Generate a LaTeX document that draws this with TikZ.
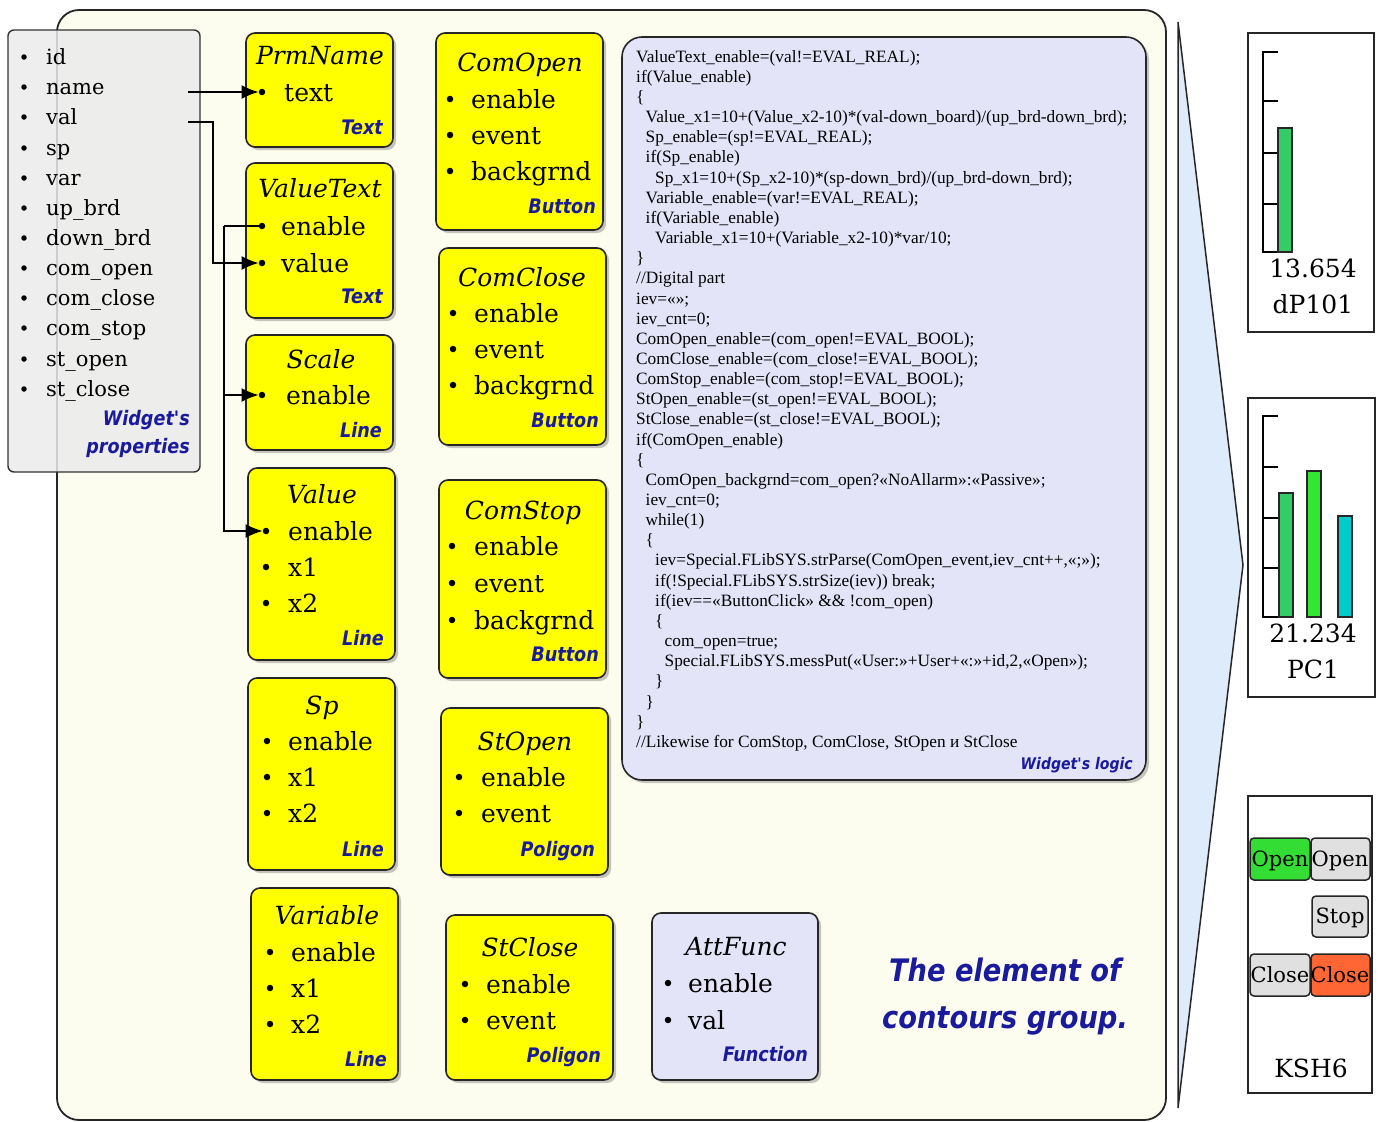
\documentclass[tikz,border=0pt]{standalone}
\usepackage{fontspec}
\setmainfont{DejaVu Serif}
\newfontfamily\codefont{Liberation Serif}
\newfontfamily\lblfont[FakeStretch=0.88]{DejaVu Sans}
\usetikzlibrary{arrows.meta,shadows}

\definecolor{cream}{HTML}{FDFDEF}
\definecolor{lav}{HTML}{E4E4F8}
\definecolor{wblue}{HTML}{1A1A9C}
\definecolor{chev}{HTML}{DDEBFA}
\definecolor{pgray}{HTML}{EBEBEB}
\definecolor{ylw}{HTML}{FFFF00}
\definecolor{bargreen}{HTML}{33CC66}
\definecolor{barlime}{HTML}{33E633}
\definecolor{barcyan}{HTML}{00CCCC}
\definecolor{btngreen}{HTML}{33DD33}
\definecolor{btngray}{HTML}{E0E0E0}
\definecolor{btnred}{HTML}{FF6633}

\newcommand\cind{\hspace*{9.5pt}}

\tikzset{
  ybox/.style={draw=black!85, line width=1.6pt, fill=ylw, rounded corners=9pt,
    drop shadow={shadow xshift=3pt, shadow yshift=-3pt, fill=black!45}},
  lbox/.style={ybox, fill=lav},
  ttl/.style={font=\fontsize{25}{30}\selectfont\itshape, anchor=base, yshift=-9pt, inner sep=0pt},
  itm/.style={font=\fontsize{25}{30}\selectfont, anchor=base west, yshift=-9pt, inner sep=0pt},
  pitm/.style={font=\fontsize{21}{25}\selectfont, anchor=base west, yshift=-7.5pt, inner sep=0pt},
  dot/.style={circle, fill=black, inner sep=0pt, minimum size=6.5pt},
  sdot/.style={circle, fill=black, inner sep=0pt, minimum size=5.5pt},
  kind/.style={font=\fontsize{20}{24}\lblfont\bfseries\itshape, text=wblue, anchor=base east, yshift=-7pt, inner sep=0pt},
  conn/.style={line width=1.6pt, -{Latex[length=17pt,width=14pt]}},
  wbox/.style={draw=black!85, line width=1.5pt, fill=white},
  bar/.style={draw=black!85, line width=1.3pt},
  btn/.style={draw=black!85, line width=1.5pt, rounded corners=4pt},
  chart/.style={font=\fontsize{25}{30}\selectfont, anchor=base, yshift=-9pt, inner sep=0pt},
  btntxt/.style={font=\fontsize{21}{25}\selectfont, anchor=base, yshift=-7.5pt, inner sep=0pt},
  capt/.style={font=\fontsize{31}{37}\lblfont\bfseries\itshape, text=wblue, anchor=base, yshift=-11pt, inner sep=0pt},
}

\begin{document}
\begin{tikzpicture}[x=1pt,y=-1pt]
  \useasboundingbox (0,0) rectangle (1382,1122);
  % group frame
  \draw[draw=black!85, line width=1.8pt, fill=cream, rounded corners=22pt] (57,10) rectangle (1166,1120);

  % widget's properties
  \draw[draw=black!80, line width=1.4pt, fill=pgray, fill opacity=0.85, rounded corners=6pt] (8,30) rectangle (200,472);
  \node[sdot] at (24,57) {};  \node[pitm] (p-id) at (46,57) {id};
  \node[sdot] at (24,87) {};  \node[pitm] (p-name) at (46,87) {name};
  \node[sdot] at (24,117) {}; \node[pitm] (p-val) at (46,117) {val};
  \node[sdot] at (24,148) {}; \node[pitm] (p-sp) at (46,148) {sp};
  \node[sdot] at (24,178) {}; \node[pitm] (p-var) at (46,178) {var};
  \node[sdot] at (24,208) {}; \node[pitm] (p-up) at (46,208) {up\_brd};
  \node[sdot] at (24,238) {}; \node[pitm] (p-down) at (46,238) {down\_brd};
  \node[sdot] at (24,268) {}; \node[pitm] (p-copen) at (46,268) {com\_open};
  \node[sdot] at (24,298) {}; \node[pitm] (p-cclose) at (46,298) {com\_close};
  \node[sdot] at (24,328) {}; \node[pitm] (p-cstop) at (46,328) {com\_stop};
  \node[sdot] at (24,359) {}; \node[pitm] (p-sopen) at (46,359) {st\_open};
  \node[sdot] at (24,389) {}; \node[pitm] (p-sclose) at (46,389) {st\_close};
  \node[kind] (p-lbl1) at (190,418) {Widget's};
  \node[kind] (p-lbl2) at (190,446) {properties};
  \coordinate (nameout) at (188,92);
  \coordinate (valout) at (188,122);

  % PrmName
  \draw[ybox] (246,33) rectangle (393,147);
  \node[ttl] (prm) at (320,55) {PrmName};
  \node[dot] (prm-txt) at (262,92) {}; \node[itm] at (284,92) {text};
  \node[kind] at (383,127) {Text};

  % ValueText
  \draw[ybox] (246,163) rectangle (393,318);
  \node[ttl] (vt) at (320,188) {ValueText};
  \node[dot] (vt-en) at (262,226) {}; \node[itm] at (281,226) {enable};
  \node[dot] (vt-val) at (262,263) {}; \node[itm] at (281,263) {value};
  \node[kind] at (383,296) {Text};

  % Scale
  \draw[ybox] (246,335) rectangle (393,450);
  \node[ttl] (sc) at (321,359) {Scale};
  \node[dot] (sc-en) at (262,395) {}; \node[itm] at (286,395) {enable};
  \node[kind] at (382,430) {Line};

  % Value
  \draw[ybox] (248,468) rectangle (395,660);
  \node[ttl] (va) at (322,494) {Value};
  \node[dot] (va-en) at (266,531) {}; \node[itm] at (288,531) {enable};
  \node[dot] (va-x1) at (266,567) {}; \node[itm] at (288,567) {x1};
  \node[dot] (va-x2) at (266,603) {}; \node[itm] at (288,603) {x2};
  \node[kind] at (384,638) {Line};

  % Sp
  \draw[ybox] (248,678) rectangle (395,870);
  \node[ttl] (sp) at (322,705) {Sp};
  \node[dot] (sp-en) at (267,741) {}; \node[itm] at (288,741) {enable};
  \node[dot] (sp-x1) at (267,777) {}; \node[itm] at (288,777) {x1};
  \node[dot] (sp-x2) at (267,813) {}; \node[itm] at (288,813) {x2};
  \node[kind] at (384,849) {Line};

  % Variable
  \draw[ybox] (251,888) rectangle (398,1080);
  \node[ttl] (vr) at (327,915) {Variable};
  \node[dot] (vr-en) at (270,952) {}; \node[itm] at (291,952) {enable};
  \node[dot] (vr-x1) at (270,988) {}; \node[itm] at (291,988) {x1};
  \node[dot] (vr-x2) at (270,1024) {}; \node[itm] at (291,1024) {x2};
  \node[kind] at (387,1059) {Line};

  % ComOpen
  \draw[ybox] (436,33) rectangle (603,230);
  \node[ttl] (co) at (520,62) {ComOpen};
  \node[dot] (co-en) at (450,99) {}; \node[itm] at (471,99) {enable};
  \node[dot] (co-ev) at (450,135) {}; \node[itm] at (471,135) {event};
  \node[dot] (co-bg) at (450,171) {}; \node[itm] at (471,171) {backgrnd};
  \node[kind] at (596,206) {Button};

  % ComClose
  \draw[ybox] (439,248) rectangle (606,445);
  \node[ttl] (cc) at (522,277) {ComClose};
  \node[dot] (cc-en) at (453,313) {}; \node[itm] at (474,313) {enable};
  \node[dot] (cc-ev) at (453,349) {}; \node[itm] at (474,349) {event};
  \node[dot] (cc-bg) at (453,385) {}; \node[itm] at (474,385) {backgrnd};
  \node[kind] at (599,420) {Button};

  % ComStop
  \draw[ybox] (439,480) rectangle (606,678);
  \node[ttl] (cs) at (523,510) {ComStop};
  \node[dot] (cs-en) at (452,546) {}; \node[itm] at (474,546) {enable};
  \node[dot] (cs-ev) at (452,583) {}; \node[itm] at (474,583) {event};
  \node[dot] (cs-bg) at (452,620) {}; \node[itm] at (474,620) {backgrnd};
  \node[kind] at (599,654) {Button};

  % StOpen
  \draw[ybox] (441,708) rectangle (608,875);
  \node[ttl] (so) at (525,741) {StOpen};
  \node[dot] (so-en) at (459,777) {}; \node[itm] at (481,777) {enable};
  \node[dot] (so-ev) at (459,813) {}; \node[itm] at (481,813) {event};
  \node[kind] at (595,849) {Poligon};

  % StClose
  \draw[ybox] (446,915) rectangle (613,1080);
  \node[ttl] (sl) at (530,947) {StClose};
  \node[dot] (sl-en) at (465,984) {}; \node[itm] at (486,984) {enable};
  \node[dot] (sl-ev) at (465,1020) {}; \node[itm] at (486,1020) {event};
  \node[kind] at (601,1055) {Poligon};

  % AttFunc
  \draw[lbox] (652,913) rectangle (818,1080);
  \node[ttl] (af) at (736,946) {AttFunc};
  \node[dot] (af-en) at (668,983) {}; \node[itm] at (688,983) {enable};
  \node[dot] (af-val) at (668,1020) {}; \node[itm] at (688,1020) {val};
  \node[kind] at (808,1054) {Function};

  % widget's logic
  \draw[lbox, rounded corners=20pt] (622,37) rectangle (1146,780);
  \node[anchor=north west, inner sep=0pt, align=left, font=\fontsize{17.3}{20.15}\codefont] (code) at (636,50) {%
ValueText\_enable=(val!=EVAL\_REAL);\\
if(Value\_enable)\\
\{\\
\cind Value\_x1=10+(Value\_x2-10)*(val-down\_board)/(up\_brd-down\_brd);\\
\cind Sp\_enable=(sp!=EVAL\_REAL);\\
\cind if(Sp\_enable)\\
\cind\cind Sp\_x1=10+(Sp\_x2-10)*(sp-down\_brd)/(up\_brd-down\_brd);\\
\cind Variable\_enable=(var!=EVAL\_REAL);\\
\cind if(Variable\_enable)\\
\cind\cind Variable\_x1=10+(Variable\_x2-10)*var/10;\\
\}\\
//Digital part\\
iev=«»;\\
iev\_cnt=0;\\
ComOpen\_enable=(com\_open!=EVAL\_BOOL);\\
ComClose\_enable=(com\_close!=EVAL\_BOOL);\\
ComStop\_enable=(com\_stop!=EVAL\_BOOL);\\
StOpen\_enable=(st\_open!=EVAL\_BOOL);\\
StClose\_enable=(st\_close!=EVAL\_BOOL);\\
if(ComOpen\_enable)\\
\{\\
\cind ComOpen\_backgrnd=com\_open?«NoAllarm»:«Passive»;\\
\cind iev\_cnt=0;\\
\cind while(1)\\
\cind \{\\
\cind\cind iev=Special.FLibSYS.strParse(ComOpen\_event,iev\_cnt++,«;»);\\
\cind\cind if(!Special.FLibSYS.strSize(iev)) break;\\
\cind\cind if(iev==«ButtonClick» \&\& !com\_open)\\
\cind\cind \{\\
\cind\cind\cind com\_open=true;\\
\cind\cind\cind Special.FLibSYS.messPut(«User:»+User+«:»+id,2,«Open»);\\
\cind\cind \}\\
\cind \}\\
\}\\
//Likewise for ComStop, ComClose, StOpen и StClose};
  \node[kind, font=\fontsize{16}{19}\lblfont\bfseries\itshape, yshift=1pt] (logic) at (1133,763) {Widget's logic};

  % caption
  \node[capt] (cap1) at (1005,970) {The element of};
  \node[capt] (cap2) at (1005,1017) {contours group.};

  % links
  \draw[conn] (nameout) -- (prm-txt);
  \draw[conn] (valout) -- ++(25,0) |- (vt-val);
  \coordinate (bus) at (224,226);
  \draw[line width=1.6pt] (vt-en) -- (bus);
  \draw[conn] (bus) |- (sc-en);
  \draw[conn] (bus) |- (va-en);

  % result
  \draw[draw=black!85, line width=1.5pt, fill=chev] (1178,22) -- (1243,565) -- (1178,1108) -- cycle;

  % dP101
  \draw[wbox] (1248,33) rectangle (1374,332);
  \draw[line width=1.5pt] (1278,52) -- (1263,52) -- (1263,252) -- (1280,252);
  \draw[line width=1.5pt] (1263,101) -- (1278,101);
  \draw[line width=1.5pt] (1263,153) -- (1278,153);
  \draw[line width=1.5pt] (1263,204) -- (1278,204);
  \draw[bar, fill=bargreen] (1278,128) rectangle (1292,252);
  \node[chart] (dp-v) at (1313,268) {13.654};
  \node[chart] (dp-n) at (1313,304) {dP101};

  % PC1
  \draw[wbox] (1248,398) rectangle (1375,697);
  \draw[line width=1.5pt] (1278,416) -- (1263,416) -- (1263,617) -- (1280,617);
  \draw[line width=1.5pt] (1263,467) -- (1278,467);
  \draw[line width=1.5pt] (1263,518) -- (1278,518);
  \draw[line width=1.5pt] (1263,568) -- (1278,568);
  \draw[bar, fill=bargreen] (1279,493) rectangle (1293,617);
  \draw[bar, fill=barlime] (1307,471) rectangle (1321,617);
  \draw[bar, fill=barcyan] (1338,516) rectangle (1352,617);
  \node[chart] (pc-v) at (1313,633) {21.234};
  \node[chart] (pc-n) at (1313,669) {PC1};

  % KSH6
  \draw[wbox] (1248,796) rectangle (1372,1093);
  \draw[btn, fill=btngreen] (1250,838) rectangle (1310,880);
  \draw[btn, fill=btngray] (1311,838) rectangle (1370,880);
  \draw[btn, fill=btngray] (1312,896) rectangle (1368,937);
  \draw[btn, fill=btngray] (1250,954) rectangle (1310,996);
  \draw[btn, fill=btnred] (1311,954) rectangle (1370,996);
  \node[btntxt] (b-open1) at (1280,859) {Open};
  \node[btntxt] (b-open2) at (1340,859) {Open};
  \node[btntxt] (b-stop) at (1340,916) {Stop};
  \node[btntxt] (b-close1) at (1280,975) {Close};
  \node[btntxt] (b-close2) at (1340,975) {Close};
  \node[chart] (ksh) at (1311,1068) {KSH6};
\end{tikzpicture}
\end{document}
